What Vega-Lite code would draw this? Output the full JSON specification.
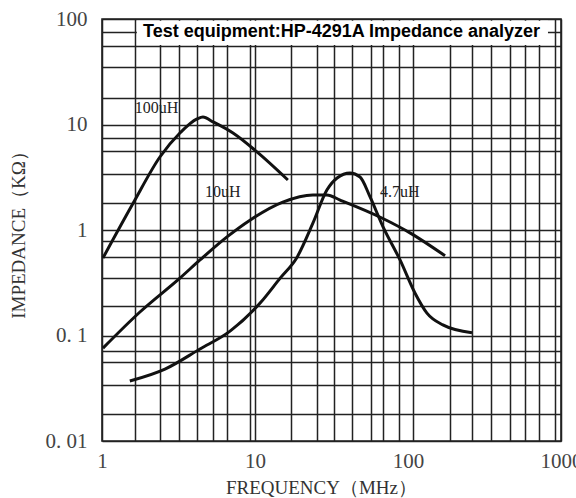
{
  "$schema": "https://vega.github.io/schema/vega-lite/v6.json",
  "width": 459,
  "height": 422,
  "autosize": {"type": "none"},
  "padding": {"left": 102, "top": 19, "right": 15, "bottom": 57},
  "background": "white",
  "config": {"view": {"stroke": "#222", "strokeWidth": 1.6}},
  "datasets": {
    "box": [{"x": 1.69, "x2": 822, "y": 56.7, "y2": 96}],
    "curves": [
      {"series": "100uH", "x": 1.015, "y": 0.543},
      {"series": "100uH", "x": 1.6, "y": 1.8},
      {"series": "100uH", "x": 2.39, "y": 4.92},
      {"series": "100uH", "x": 3.23, "y": 8.3},
      {"series": "100uH", "x": 4.18, "y": 11.3},
      {"series": "100uH", "x": 4.57, "y": 11.8},
      {"series": "100uH", "x": 5.31, "y": 10.6},
      {"series": "100uH", "x": 7.18, "y": 8.3},
      {"series": "100uH", "x": 10.3, "y": 5.5},
      {"series": "100uH", "x": 16.4, "y": 2.98},
      {"series": "10uH", "x": 1.015, "y": 0.076},
      {"series": "10uH", "x": 1.77, "y": 0.167},
      {"series": "10uH", "x": 3.23, "y": 0.35},
      {"series": "10uH", "x": 4.37, "y": 0.52},
      {"series": "10uH", "x": 6.56, "y": 0.86},
      {"series": "10uH", "x": 9.27, "y": 1.24},
      {"series": "10uH", "x": 15.2, "y": 1.84},
      {"series": "10uH", "x": 23.9, "y": 2.15},
      {"series": "10uH", "x": 29.5, "y": 2.15},
      {"series": "10uH", "x": 36, "y": 1.92},
      {"series": "10uH", "x": 67.5, "y": 1.3},
      {"series": "10uH", "x": 103, "y": 0.94},
      {"series": "10uH", "x": 174.6, "y": 0.57},
      {"series": "4.7uH", "x": 1.52, "y": 0.037},
      {"series": "4.7uH", "x": 2.58, "y": 0.048},
      {"series": "4.7uH", "x": 4.37, "y": 0.0745},
      {"series": "4.7uH", "x": 6.87, "y": 0.11},
      {"series": "4.7uH", "x": 10.8, "y": 0.203},
      {"series": "4.7uH", "x": 14.6, "y": 0.35},
      {"series": "4.7uH", "x": 18.8, "y": 0.55},
      {"series": "4.7uH", "x": 23.9, "y": 1.16},
      {"series": "4.7uH", "x": 29.5, "y": 2.39},
      {"series": "4.7uH", "x": 34.4, "y": 3.11},
      {"series": "4.7uH", "x": 41.8, "y": 3.47},
      {"series": "4.7uH", "x": 48.6, "y": 3.18},
      {"series": "4.7uH", "x": 56.5, "y": 2.06},
      {"series": "4.7uH", "x": 68.7, "y": 1.07},
      {"series": "4.7uH", "x": 88.7, "y": 0.52},
      {"series": "4.7uH", "x": 111, "y": 0.253},
      {"series": "4.7uH", "x": 133, "y": 0.163},
      {"series": "4.7uH", "x": 169, "y": 0.126},
      {"series": "4.7uH", "x": 262, "y": 0.106}
    ],
    "labels": [
      {"label": "100uH", "x": 1.64, "y": 14.3},
      {"label": "10uH", "x": 4.71, "y": 2.29},
      {"label": "4.7uH", "x": 65.6, "y": 2.29}
    ],
    "note": [{"label": "Test equipment:HP-4291A Impedance analyzer", "x": 1.853, "y": 75.4}]
  },
  "encoding": {
    "x": {
      "field": "x",
      "type": "quantitative",
      "scale": {"type": "log", "domain": [1, 1000], "nice": false},
      "axis": {
        "title": "FREQUENCY（MHz）",
        "values": [1, 1.64, 2.39, 3.18, 4.17, 5.3, 6.55, 9.3, 10, 17.2, 25.4, 32.8, 43, 57, 68.7, 87, 100, 108, 188, 262, 349, 464, 582, 718, 914, 1000],
        "labelExpr": "datum.value == 1 ? '1' : datum.value == 10 ? '10' : datum.value == 100 ? '100' : datum.value == 1000 ? '1000' : ''",
        "ticks": false,
        "domain": false,
        "grid": true,
        "gridColor": "#222",
        "gridWidth": 1.5,
        "gridOpacity": {"condition": {"test": "datum.value == 100", "value": 0}, "value": 1},
        "labelFont": "Liberation Serif",
        "labelFontSize": 21,
        "labelColor": "#444",
        "labelPadding": 9,
        "labelOverlap": false,
        "labelFlush": false,
        "labelBound": false,
        "titleFont": "Liberation Serif",
        "titleFontSize": 19,
        "titleFontWeight": "normal",
        "titleColor": "#333",
        "titleX": 219,
        "titleY": 46,
        "titleBaseline": "middle",
        "titleAlign": "center"
      }
    },
    "y": {
      "field": "y",
      "type": "quantitative",
      "scale": {"type": "log", "domain": [0.01, 100], "nice": false},
      "axis": {
        "title": "IMPEDANCE（KΩ）",
        "values": [0.01, 0.018, 0.034, 0.056, 0.072, 0.1, 0.19, 0.35, 0.55, 0.79, 1, 1.8, 3.4, 5.6, 7.4, 10, 18, 35, 55, 76, 100],
        "labelExpr": "datum.value == 100 ? '100' : datum.value == 10 ? '10' : datum.value == 1 ? '1' : datum.value == 0.1 ? '0. 1' : datum.value == 0.01 ? '0. 01' : ''",
        "ticks": false,
        "domain": false,
        "grid": true,
        "gridColor": "#222",
        "gridWidth": 1.5,
        "labelFont": "Liberation Serif",
        "labelFontSize": 21,
        "labelColor": "#444",
        "labelPadding": 15,
        "labelOverlap": false,
        "labelBound": false,
        "labelFlush": false,
        "titleFont": "Liberation Serif",
        "titleFontSize": 19,
        "titleFontWeight": "normal",
        "titleColor": "#333",
        "titleX": -84,
        "titleY": 211,
        "titleAngle": -90,
        "titleBaseline": "middle",
        "titleAlign": "center"
      }
    }
  },
  "layer": [
    {
      "data": {"name": "box"},
      "mark": {"type": "rect", "fill": "white", "stroke": null},
      "encoding": {"x2": {"field": "x2"}, "y2": {"field": "y2"}}
    },
    {
      "data": {"name": "curves"},
      "mark": {"type": "line", "color": "#111", "strokeWidth": 3, "interpolate": "monotone"},
      "encoding": {"detail": {"field": "series"}}
    },
    {
      "data": {"name": "labels"},
      "mark": {"type": "text", "align": "left", "baseline": "middle", "font": "Liberation Serif", "fontSize": 16, "color": "#222"},
      "encoding": {"text": {"field": "label"}}
    },
    {
      "data": {"name": "note"},
      "mark": {"type": "text", "align": "left", "baseline": "middle", "font": "Liberation Sans", "fontWeight": "bold", "fontSize": 18, "color": "#000"},
      "encoding": {"text": {"field": "label"}}
    }
  ]
}
